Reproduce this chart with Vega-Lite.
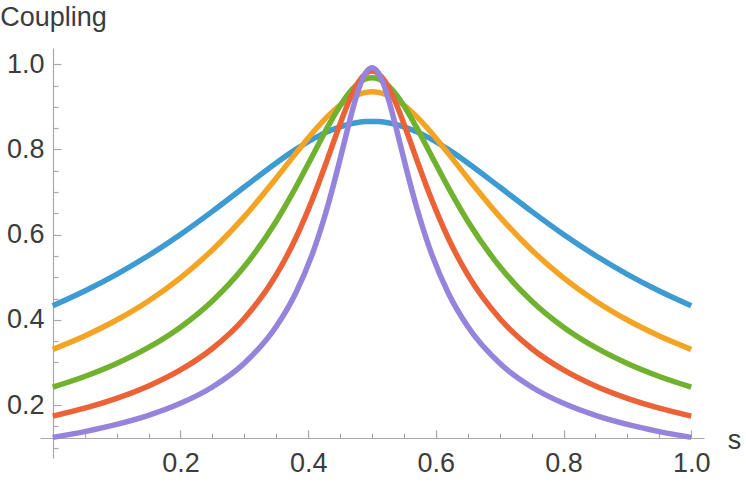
{
  "$schema": "https://vega.github.io/schema/vega-lite/v6.json",
  "width": 664,
  "height": 410,
  "autosize": {"type": "none"},
  "padding": {"left": 40, "top": 48, "right": 42, "bottom": 25},
  "background": "white",
  "config": {"view": {"stroke": null}},
  "data": {"values": [
    {"s": 0.00, "a": 0.4330, "b": 0.3307, "c": 0.2421, "d": 0.1740, "e": 0.1240},
    {"s": 0.05, "a": 0.4676, "b": 0.3622, "c": 0.2670, "d": 0.1926, "e": 0.1375},
    {"s": 0.10, "a": 0.5068, "b": 0.3996, "c": 0.2974, "d": 0.2156, "e": 0.1544},
    {"s": 0.15, "a": 0.5510, "b": 0.4444, "c": 0.3351, "d": 0.2446, "e": 0.1757},
    {"s": 0.20, "a": 0.6005, "b": 0.4986, "c": 0.3827, "d": 0.2823, "e": 0.2039},
    {"s": 0.25, "a": 0.6547, "b": 0.5641, "c": 0.4443, "d": 0.3327, "e": 0.2424},
    {"s": 0.30, "a": 0.7119, "b": 0.6424, "c": 0.5251, "d": 0.4032, "e": 0.2981},
    {"s": 0.35, "a": 0.7685, "b": 0.7327, "c": 0.6316, "d": 0.5056, "e": 0.3842},
    {"s": 0.38, "a": 0.7997, "b": 0.7897, "c": 0.7092, "d": 0.5897, "e": 0.4612},
    {"s": 0.41, "a": 0.8268, "b": 0.8445, "c": 0.7943, "d": 0.6952, "e": 0.5689},
    {"s": 0.43, "a": 0.8416, "b": 0.8772, "c": 0.8512, "d": 0.7763, "e": 0.6637},
    {"s": 0.45, "a": 0.8533, "b": 0.9043, "c": 0.9029, "d": 0.8599, "e": 0.7771},
    {"s": 0.46, "a": 0.8578, "b": 0.9151, "c": 0.9249, "d": 0.8991, "e": 0.8376},
    {"s": 0.47, "a": 0.8614, "b": 0.9238, "c": 0.9431, "d": 0.9335, "e": 0.8958},
    {"s": 0.48, "a": 0.8640, "b": 0.9302, "c": 0.9568, "d": 0.9607, "e": 0.9456},
    {"s": 0.49, "a": 0.8655, "b": 0.9341, "c": 0.9654, "d": 0.9782, "e": 0.9799},
    {"s": 0.50, "a": 0.8660, "b": 0.9354, "c": 0.9682, "d": 0.9843, "e": 0.9922},
    {"s": 0.51, "a": 0.8655, "b": 0.9341, "c": 0.9654, "d": 0.9782, "e": 0.9799},
    {"s": 0.52, "a": 0.8640, "b": 0.9302, "c": 0.9568, "d": 0.9607, "e": 0.9456},
    {"s": 0.53, "a": 0.8614, "b": 0.9238, "c": 0.9431, "d": 0.9335, "e": 0.8958},
    {"s": 0.54, "a": 0.8578, "b": 0.9151, "c": 0.9249, "d": 0.8991, "e": 0.8376},
    {"s": 0.55, "a": 0.8533, "b": 0.9043, "c": 0.9029, "d": 0.8599, "e": 0.7771},
    {"s": 0.57, "a": 0.8416, "b": 0.8772, "c": 0.8512, "d": 0.7763, "e": 0.6637},
    {"s": 0.59, "a": 0.8268, "b": 0.8445, "c": 0.7943, "d": 0.6952, "e": 0.5689},
    {"s": 0.62, "a": 0.7997, "b": 0.7897, "c": 0.7092, "d": 0.5897, "e": 0.4612},
    {"s": 0.65, "a": 0.7685, "b": 0.7327, "c": 0.6316, "d": 0.5056, "e": 0.3842},
    {"s": 0.70, "a": 0.7119, "b": 0.6424, "c": 0.5251, "d": 0.4032, "e": 0.2981},
    {"s": 0.75, "a": 0.6547, "b": 0.5641, "c": 0.4443, "d": 0.3327, "e": 0.2424},
    {"s": 0.80, "a": 0.6005, "b": 0.4986, "c": 0.3827, "d": 0.2823, "e": 0.2039},
    {"s": 0.85, "a": 0.5510, "b": 0.4444, "c": 0.3351, "d": 0.2446, "e": 0.1757},
    {"s": 0.90, "a": 0.5068, "b": 0.3996, "c": 0.2974, "d": 0.2156, "e": 0.1544},
    {"s": 0.95, "a": 0.4676, "b": 0.3622, "c": 0.2670, "d": 0.1926, "e": 0.1375},
    {"s": 1.00, "a": 0.4330, "b": 0.3307, "c": 0.2421, "d": 0.1740, "e": 0.1240}
  ]},
  "transform": [{"fold": ["a", "b", "c", "d", "e"], "as": ["k", "v"]}],
  "mark": {"type": "line", "strokeWidth": 5.5, "interpolate": "monotone", "clip": false},
  "encoding": {
    "x": {
      "field": "s", "type": "quantitative",
      "scale": {"domain": [-0.02, 1.02], "nice": false, "zero": false},
      "axis": {
        "values": [0.05, 0.1, 0.15, 0.2, 0.25, 0.3, 0.35, 0.4, 0.45, 0.5, 0.55, 0.6, 0.65, 0.7, 0.75, 0.8, 0.85, 0.9, 0.95, 1.0],
        "labelExpr": "abs(datum.value*5 - round(datum.value*5)) < 0.001 ? format(datum.value, '.1f') : ''",
        "tickSize": {"condition": {"test": "abs(datum.value*5 - round(datum.value*5)) < 0.001", "value": -8}, "value": -5},
        "offset": -20,
        "grid": false,
        "domainColor": "#a8a8a8", "tickColor": "#a8a8a8", "domainWidth": 1.2, "tickWidth": 1.2,
        "labelFont": "Liberation Sans", "labelFontSize": 27, "labelColor": "#3c3c3c",
        "labelPadding": 20, "labelFlush": false, "labelOverlap": false, "labelBound": false,
        "title": "s", "titleX": 694, "titleY": 10, "titleAlign": "center", "titleBaseline": "alphabetic",
        "titleFont": "Liberation Sans", "titleFontSize": 27, "titleFontWeight": "normal", "titleColor": "#3c3c3c"
      }
    },
    "y": {
      "field": "v", "type": "quantitative",
      "scale": {"domain": [0.0756, 1.0383], "nice": false, "zero": false},
      "axis": {
        "values": [0.1, 0.15, 0.2, 0.25, 0.3, 0.35, 0.4, 0.45, 0.5, 0.55, 0.6, 0.65, 0.7, 0.75, 0.8, 0.85, 0.9, 0.95, 1.0],
        "labelExpr": "abs(datum.value*5 - round(datum.value*5)) < 0.001 ? format(datum.value, '.1f') : ''",
        "tickSize": {"condition": {"test": "abs(datum.value*5 - round(datum.value*5)) < 0.001", "value": -8}, "value": -5},
        "offset": -13,
        "grid": false,
        "domainColor": "#a8a8a8", "tickColor": "#a8a8a8", "domainWidth": 1.2, "tickWidth": 1.2,
        "labelFont": "Liberation Sans", "labelFontSize": 27, "labelColor": "#3c3c3c",
        "labelPadding": 17, "labelFlush": false, "labelOverlap": false, "labelBound": false,
        "title": "Coupling", "titleAngle": 0, "titleX": 0, "titleY": -23, "titleAlign": "center", "titleBaseline": "alphabetic",
        "titleFont": "Liberation Sans", "titleFontSize": 27, "titleFontWeight": "normal", "titleColor": "#3c3c3c"
      }
    },
    "color": {
      "field": "k", "type": "nominal",
      "scale": {"domain": ["a", "b", "c", "d", "e"], "range": ["#3D9BD2", "#F4A425", "#70B22F", "#EA6236", "#9683DC"]},
      "legend": null
    }
  }
}
